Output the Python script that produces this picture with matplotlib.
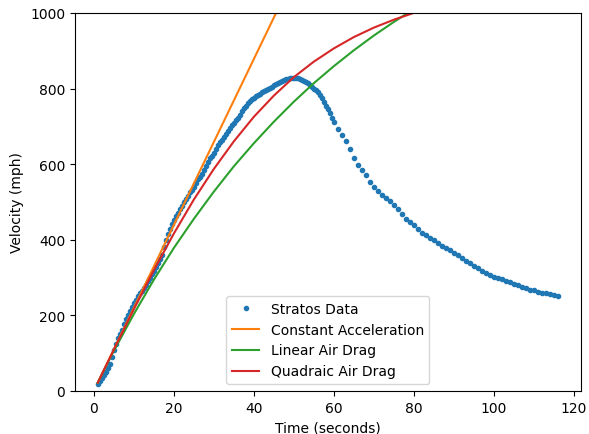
import numpy as np
import matplotlib.pyplot as plt

# Stratos jump: measured speed, half-second readings up to 60 s, then one per second
t_data = np.concatenate([np.arange(1, 60.5, 0.5), np.arange(61, 117)])
v_data = [18, 25, 33, 41, 50, 60, 72, 90, 108, 125,
          140, 150, 160, 176, 190, 202, 212, 222, 232, 241,
          250, 258, 265, 272, 280, 290, 300, 309, 318, 328,
          338, 348, 360, 382, 400, 415, 428, 442, 452, 462,
          472, 481, 490, 499, 507, 516, 525, 532, 540, 550,
          560, 567, 575, 585, 595, 605, 615, 622, 630, 640,
          650, 658, 665, 673, 680, 688, 695, 703, 710, 716,
          722, 731, 740, 748, 755, 761, 766, 771, 775, 779,
          782, 786, 790, 794, 797, 800, 802, 805, 808, 812,
          815, 818, 820, 823, 825, 826, 827, 828, 828, 828,
          827, 825, 823, 821, 818, 814, 810, 805, 800, 796,
          790, 783, 775, 765, 755, 745, 735, 723, 712,
          694, 678, 660, 640, 615, 598, 585, 570, 552, 540,
          528, 518, 510, 502, 492, 480, 468, 456, 447, 438,
          428, 419, 412, 405, 398, 392, 384, 377, 372, 366,
          360, 352, 344, 338, 330, 324, 318, 313, 306, 302,
          298, 295, 292, 287, 283, 279, 275, 272, 268, 266,
          263, 260, 258, 256, 253, 251]

# model curves
t_const = [1, 50]
v_const = [22, 1097]

t_model = [1, 5, 10, 15, 20, 25, 30, 35, 40, 45, 50, 55, 60, 65, 70, 75, 80, 85]
v_linear = [22, 106, 203, 294, 378, 455, 527, 594, 655, 712, 765, 814, 859, 901, 940, 976, 1010, 1040]
v_quad = [22, 109, 216, 319, 416, 506, 587, 660, 725, 781, 830, 871, 906, 936, 961, 982, 1000, 1014]

fig = plt.figure(figsize=(5.89, 4.35), dpi=100)
plt.subplots_adjust(left=0.127, right=0.986, top=0.968, bottom=0.099)
plt.plot(t_data, v_data, '.', label='Stratos Data')
plt.plot(t_const, v_const, label='Constant Acceleration')
plt.plot(t_model, v_linear, label='Linear Air Drag')
plt.plot(t_model, v_quad, label='Quadraic Air Drag')
plt.xlim(-4.75, 121.75)
plt.ylim(0, 1000)
plt.xlabel('Time (seconds)')
plt.ylabel('Velocity (mph)')
plt.legend(loc='lower center')
plt.savefig('out.png')
